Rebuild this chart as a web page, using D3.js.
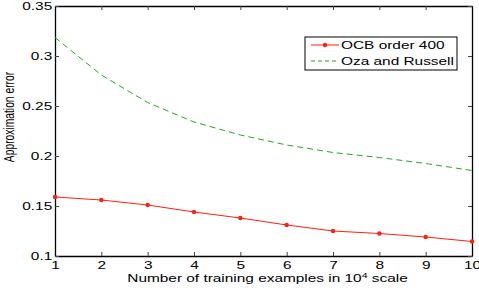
<!DOCTYPE html>
<html>
<head>
<meta charset="utf-8">
<script src="https://cdn.jsdelivr.net/npm/d3@7"></script>
<style>
  html, body { margin: 0; padding: 0; background: #fff; }
  svg { display: block; font-family: "Liberation Sans", Arial, sans-serif; }
</style>
</head>
<body>
<svg id="chart" width="479" height="291"></svg>
<script>
// Data
const trainingSizes = [1, 2, 3, 4, 5, 6, 7, 8, 9, 10]
const ocbError = [0.159, 0.156, 0.151, 0.144, 0.138, 0.131, 0.125, 0.1225, 0.119, 0.1145]
const ozaError = [0.3185, 0.281, 0.2535, 0.234, 0.221, 0.211, 0.2035, 0.1985, 0.1925, 0.1855]
const seriesNames = ["OCB order 400", "Oza and Russell"]
const yTicks = [0.1, 0.15, 0.2, 0.25, 0.3, 0.35]
const xTicks = [1, 2, 3, 4, 5, 6, 7, 8, 9, 10]

// The original figure was squeezed, so glyphs look wider than normal
const SX = 1.4
const FONT = 11

const svg = d3.select("#chart")
const plot = { left: 55, right: 472, top: 6, bottom: 256 }

const x = d3.scaleLinear().domain([1, 10]).range([plot.left, plot.right])
const y = d3.scaleLinear().domain([0.1, 0.35]).range([plot.bottom, plot.top])

// Axes: ticks point inward on all four sides, labels only bottom and left
const fmtY = d => String(+d.toFixed(2))
const axes = [
  { axis: d3.axisBottom(x).tickValues(xTicks).tickFormat(d3.format("d")), at: `translate(0,${plot.bottom})`, labels: true },
  { axis: d3.axisTop(x).tickValues(xTicks).tickFormat(""), at: `translate(0,${plot.top})` },
  { axis: d3.axisLeft(y).tickValues(yTicks).tickFormat(fmtY), at: `translate(${plot.left},0)`, labels: true },
  { axis: d3.axisRight(y).tickValues(yTicks).tickFormat(""), at: `translate(${plot.right},0)` }
]
axes.forEach(a => {
  const g = svg.append("g")
    .attr("transform", a.at)
    .call(a.axis.tickSizeInner(-4).tickSizeOuter(0).tickPadding(a.axis === axes[2].axis ? 2 : 5))
  g.select(".domain").attr("stroke", "#000").attr("stroke-width", 1.3)
  g.selectAll(".tick line").attr("stroke", "#444").attr("stroke-width", 1)
  g.selectAll(".tick text")
    .attr("fill", "#000")
    .style("font-size", FONT + "px")
    .style("font-family", "'Liberation Sans', Arial, sans-serif")
    .attr("transform", `scale(${SX},1)`)
})

// Series lines
const ocbPts = trainingSizes.map((t, i) => [t, ocbError[i]])
const ozaPts = trainingSizes.map((t, i) => [t, ozaError[i]])
const line = d3.line().x(d => x(d[0])).y(d => y(d[1]))

svg.append("path")
  .datum(ozaPts)
  .attr("d", line)
  .attr("fill", "none")
  .attr("stroke", "#22a822")
  .attr("stroke-width", 1)
  .attr("stroke-dasharray", "6,4")

svg.append("path")
  .datum(ocbPts)
  .attr("d", line)
  .attr("fill", "none")
  .attr("stroke", "#ff2010")
  .attr("stroke-width", 1)

svg.append("g")
  .selectAll("circle")
  .data(ocbPts)
  .enter()
  .append("circle")
  .attr("cx", d => x(d[0]))
  .attr("cy", d => y(d[1]))
  .attr("r", 2.2)
  .attr("fill", "#ff2010")

// Axis titles, stretched the same way as the rest of the text
svg.append("text")
  .attr("transform", `translate(${(plot.left + plot.right) / 2 + 4},282) scale(${SX},1)`)
  .attr("text-anchor", "middle")
  .style("font-size", FONT + "px")
  .call(t => {
    t.append("tspan").text("Number of training examples in 10")
    t.append("tspan").attr("dy", -4).style("font-size", "7.5px").text("4")
    t.append("tspan").attr("dy", 4).text(" scale")
  })

svg.append("text")
  .attr("transform", `translate(14,117) scale(${SX},1) rotate(-90)`)
  .attr("text-anchor", "middle")
  .style("font-size", "10.3px")
  .text("Approximation error")

// Legend
const legend = svg.append("g").attr("transform", "translate(305,37)")
legend.append("rect")
  .attr("width", 152).attr("height", 33)
  .attr("fill", "#fff").attr("stroke", "#000").attr("stroke-width", 1)

const legendItems = [
  { name: seriesNames[0], color: "#ff2010", dash: null, marker: true },
  { name: seriesNames[1], color: "#22a822", dash: "4,3", marker: false }
]
const rows = legend.selectAll(".row")
  .data(legendItems)
  .enter()
  .append("g")
  .attr("class", "row")
  .attr("transform", (d, i) => `translate(0,${8 + i * 16})`)

rows.append("line")
  .attr("x1", 6).attr("x2", 34)
  .attr("stroke", d => d.color)
  .attr("stroke-dasharray", d => d.dash)
rows.filter(d => d.marker).append("circle")
  .attr("cx", 20).attr("r", 2.2).attr("fill", d => d.color)
rows.append("text")
  .attr("transform", `translate(36,0) scale(${SX},1)`)
  .attr("dy", "0.35em")
  .style("font-size", FONT + "px")
  .text(d => d.name)
</script>
</body>
</html>
